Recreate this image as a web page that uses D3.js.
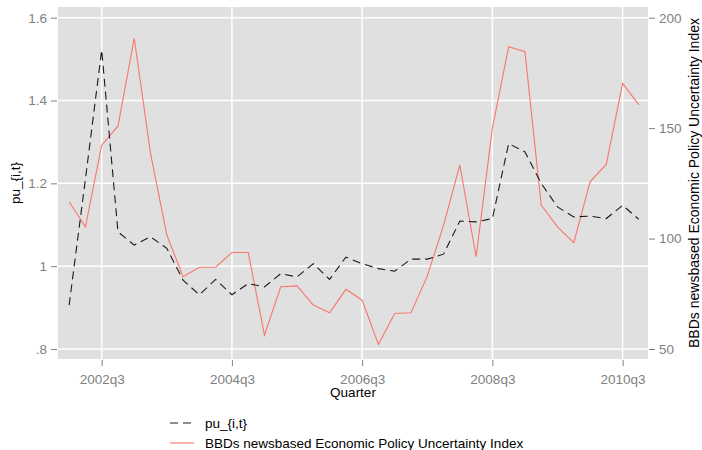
<!DOCTYPE html>
<html><head><meta charset="utf-8">
<script src="https://cdn.jsdelivr.net/npm/d3@7"></script>
<style>body{margin:0;background:#fff;} text{font-family:Arial,"Liberation Sans",sans-serif;}</style>
</head><body><svg id="c" width="702" height="450"></svg>
<script>
const quarters = ["2002q1","2002q2","2002q3","2002q4","2003q1","2003q2","2003q3","2003q4",
"2004q1","2004q2","2004q3","2004q4","2005q1","2005q2","2005q3","2005q4",
"2006q1","2006q2","2006q3","2006q4","2007q1","2007q2","2007q3","2007q4",
"2008q1","2008q2","2008q3","2008q4","2009q1","2009q2","2009q3","2009q4",
"2010q1","2010q2","2010q3","2010q4"];
const pu = [0.906,1.21,1.522,1.083,1.051,1.071,1.043,0.966,0.931,0.968,0.931,0.958,
0.950,0.982,0.974,1.006,0.968,1.022,1.006,0.994,0.988,1.017,1.017,1.029,
1.109,1.107,1.115,1.296,1.276,1.200,1.143,1.119,1.121,1.115,1.147,1.113];
const epu = [116.7,105.3,142.3,150.9,190.7,138.6,101.6,82.7,87,87,93.7,93.7,
56.3,78.2,78.6,69.9,66.4,77,72.1,52.1,66.1,66.4,83,106,
133.3,91.8,150,186.9,184.6,115.2,105.3,98.1,125.7,133.7,170.3,160.5];
const xTickLabels = ["2002q3","2004q3","2006q3","2008q3","2010q3"];
const leftTicks = [0.8,1.0,1.2,1.4,1.6];
const leftTickLabels = [".8","1","1.2","1.4","1.6"];
const rightTicks = [50,100,150,200];
const seriesNames = ["pu_{i,t}","BBDs newsbased Economic Policy Uncertainty Index"];

const svg = d3.select("#c");
const P = {l:58, r:648, t:7, b:359};
const idx = d => quarters.indexOf(d);
const x = d3.scaleLinear().domain([-0.684, 35.56]).range([P.l, P.r]);
const yL = d3.scaleLinear().domain([0.8,1.6]).range([349,17.7]);
const yR = d3.scaleLinear().domain([50,200]).range([349,17.7]);
const gray = "#7f7f7f";

svg.append("rect").attr("x",P.l).attr("y",P.t).attr("width",P.r-P.l).attr("height",P.b-P.t).attr("fill","#e0e0e0");
// grid
svg.append("g").selectAll("line").data(leftTicks).join("line")
  .attr("x1",P.l).attr("x2",P.r).attr("y1",d=>yL(d)).attr("y2",d=>yL(d))
  .attr("stroke","#fff").attr("stroke-width",1.5);
svg.append("g").selectAll("line").data(xTickLabels).join("line")
  .attr("x1",d=>x(idx(d))).attr("x2",d=>x(idx(d))).attr("y1",P.t).attr("y2",P.b)
  .attr("stroke","#fff").attr("stroke-width",1.5);

// axes
const axL = svg.append("g").attr("transform",`translate(${P.l-1},0)`)
  .call(d3.axisLeft(yL).tickValues(leftTicks).tickFormat((d,i)=>leftTickLabels[i]).tickSize(6).tickPadding(4));
const axR = svg.append("g").attr("transform",`translate(${P.r+1},0)`)
  .call(d3.axisRight(yR).tickValues(rightTicks).tickSize(6).tickPadding(4));
const axB = svg.append("g").attr("transform",`translate(0,${P.b+1})`)
  .call(d3.axisBottom(x).tickValues(xTickLabels.map(idx)).tickFormat(d=>quarters[d]).tickSize(6).tickPadding(8));
[axL,axR,axB].forEach(a=>{
  a.select(".domain").remove();
  a.selectAll(".tick line").attr("stroke",gray);
  a.selectAll(".tick text").attr("fill",gray).style("font-size","13.5px").style("font-family","Arial, 'Liberation Sans', sans-serif");
});

// lines
const lineL = d3.line().x((d,i)=>x(i)).y(d=>yL(d));
const lineR = d3.line().x((d,i)=>x(i)).y(d=>yR(d));
svg.append("path").datum(epu).attr("d",lineR).attr("fill","none").attr("stroke","#f8766d").attr("stroke-width",1.1);
svg.append("path").datum(pu).attr("d",lineL).attr("fill","none").attr("stroke","#1a1a1a").attr("stroke-width",1.1).attr("stroke-dasharray","8,5");

// titles
svg.append("text").attr("transform","translate(20,183) rotate(-90)").attr("text-anchor","middle")
  .style("font-size","13.5px").text("pu_{i,t}");
svg.append("text").attr("transform","translate(699,183) rotate(-90)").attr("text-anchor","middle")
  .style("font-size","14px").text(seriesNames[1]);
svg.append("text").attr("x",(P.l+P.r)/2).attr("y",397).attr("text-anchor","middle")
  .style("font-size","13.5px").text("Quarter");

// legend
const lg = svg.append("g");
lg.append("line").attr("x1",170).attr("x2",194).attr("y1",423).attr("y2",423)
  .attr("stroke","#1a1a1a").attr("stroke-width",1.1).attr("stroke-dasharray","8,5");
lg.append("line").attr("x1",170).attr("x2",194).attr("y1",443).attr("y2",443)
  .attr("stroke","#f8766d").attr("stroke-width",1.1);
lg.append("text").attr("x",205).attr("y",428).style("font-size","13.5px").text(seriesNames[0]);
lg.append("text").attr("x",205).attr("y",448).style("font-size","13.5px").text(seriesNames[1]);
</script></body></html>
